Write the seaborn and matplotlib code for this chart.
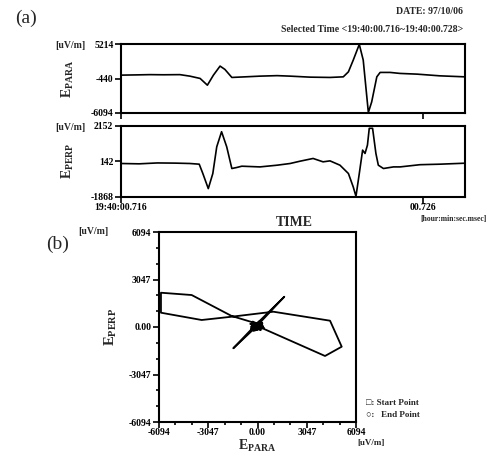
import numpy as np
import pandas as pd
import matplotlib
matplotlib.use('Agg')
import matplotlib.pyplot as plt
import seaborn as sns
from matplotlib.ticker import FixedLocator

# time series (ms after 19:40:00.716)
t_para = [0.0, 0.5, 0.96, 1.4, 1.95, 2.28, 2.62, 2.86, 3.06, 3.28, 3.44, 3.67, 4.11, 4.6,
          5.17, 5.6, 6.26, 6.92, 7.36, 7.53, 7.69, 7.89, 8.02, 8.19, 8.30, 8.47, 8.58,
          8.91, 9.24, 9.8, 10.56, 11.39]
e_para = [111, 150, 194, 170, 194, -53, -432, -1535, 111, 1593, 1050, -267, -168, -53,
          29, -53, -218, -267, -168, 655, 2580, 5150, 2580, -6000, -4283, -168, 556,
          556, 391, 276, -4, -168]

t_perp = [0.0, 0.6, 1.2, 1.8, 2.28, 2.59, 2.71, 2.89, 3.04, 3.17, 3.33, 3.50, 3.67, 3.83,
          4.0, 4.6, 5.17, 5.6, 5.93, 6.36, 6.69, 6.92, 7.25, 7.53, 7.69, 7.78, 7.89, 8.0,
          8.08, 8.16, 8.22, 8.33, 8.44, 8.52, 8.69, 9.02, 9.24, 9.9, 10.56, 11.39]
e_perp = [29, 10, 60, 50, 29, -10, -539, -1393, -539, 974, 1828, 974, -255, -198,
          -124, -164, -67, 29, 160, 314, 123, 178, -67, -539, -1301, -1831, -539, 786,
          598, 1071, 2021, 2021, 598, -67, -255, -164, -164, -39, -10, 46]

# hodogram (E_PARA vs E_PERP) as drawn in panel (b)
hodo_para = [-150, -400, 250, -100, 350, -300, 100, -450, 300, -200, -1498, -150, 1659,
             -100, 300, -400, 150, -250, 400, -350, 200, -150, 4178, 5210, 4488, 980,
             -1597, -3454, -5973, -5973, -4073, -1597, -300, 250, -155]
hodo_perp = [128, 0, 300, -200, 50, 350, -150, 200, 250, -100, -1365, 100, 1942,
             0, 200, -100, 400, -250, -50, 250, -200, 128, -1859, -1263, 404, 981,
             660, 449, 917, 2199, 2051, 705, 300, -50, 128]

para_ticks = [-6094, -440, 5214]
perp_ticks = [-1868, 142, 2152]
hodo_ticks = [-6094, -3047, 0, 3047, 6094]
hodo_labels = ['-6094', '-3047', '0.00', '3047', '6094']
time_ticks = [0, 10]
time_labels = ['19:40:00.716', '00.726']

sns.set_theme(style='ticks')
plt.rcParams['font.family'] = ['Liberation Serif', 'DejaVu Sans']
plt.rcParams['mathtext.fontset'] = 'custom'
plt.rcParams['mathtext.rm'] = 'Liberation Serif:bold'
plt.rcParams['mathtext.bf'] = 'Liberation Serif:bold'

W, H = 489, 454


def fx(px):
    return px / W


def fy(py):
    return 1 - py / H


fig = plt.figure(figsize=(W / 100, H / 100), dpi=100)
fig.patch.set_facecolor('white')

tick_kw = dict(labelsize=7, length=4, width=1.2, colors='black', pad=1.5)


def style_axes(ax):
    ax.set_facecolor('white')
    for s in ax.spines.values():
        s.set_linewidth(1.5)
        s.set_color('black')
    for lab in ax.get_xticklabels() + ax.get_yticklabels():
        lab.set_fontweight('bold')


# (a) E_PARA
ax1 = fig.add_axes([fx(121), fy(113), fx(465) - fx(121), fy(44) - fy(113)])
sns.lineplot(x=t_para, y=e_para, ax=ax1, color='black', linewidth=1.2, estimator=None, sort=False)
ax1.set_xlim(0, 11.39)
ax1.set_ylim(-6094, 5214)
ax1.set_yticks(para_ticks)
ax1.set_yticklabels(['-6094', '-440', '5214'])
ax1.set_xticks(time_ticks)
ax1.set_xticklabels([])
ax1.tick_params(**tick_kw)
ax1.set_xlabel('')
ax1.set_ylabel('')
style_axes(ax1)

# (a) E_PERP
ax2 = fig.add_axes([fx(121), fy(197), fx(465) - fx(121), fy(126) - fy(197)])
sns.lineplot(x=t_perp, y=e_perp, ax=ax2, color='black', linewidth=1.2, estimator=None, sort=False)
ax2.set_xlim(0, 11.39)
ax2.set_ylim(-1868, 2152)
ax2.set_yticks(perp_ticks)
ax2.set_yticklabels(['-1868', '142', '2152'])
ax2.set_xticks(time_ticks)
ax2.set_xticklabels(time_labels)
ax2.tick_params(**tick_kw)
ax2.tick_params(axis='x', pad=0.5)
ax2.set_xlabel('')
ax2.set_ylabel('')
style_axes(ax2)

# (b) hodogram
ax3 = fig.add_axes([fx(159), fy(422), fx(356) - fx(159), fy(232) - fy(422)])
hodo = pd.DataFrame({'para': hodo_para, 'perp': hodo_perp})
sns.lineplot(data=hodo, x='para', y='perp', ax=ax3, color='black', linewidth=1.3,
             estimator=None, sort=False)
ax3.plot(hodo_para[0], hodo_perp[0], marker='s', ms=3, mfc='black', mec='black', mew=0.8)
ax3.plot(hodo_para[-1], hodo_perp[-1], marker='o', ms=3, mfc='black', mec='black', mew=0.8)
ax3.set_xlim(-6094, 6094)
ax3.set_ylim(-6094, 6094)
ax3.set_xticks(hodo_ticks)
ax3.set_xticklabels(hodo_labels)
ax3.set_yticks(hodo_ticks)
ax3.set_yticklabels(hodo_labels)
minor = np.linspace(-6094, 6094, 13)
ax3.xaxis.set_minor_locator(FixedLocator(minor))
ax3.yaxis.set_minor_locator(FixedLocator(minor))
ax3.tick_params(which='major', **tick_kw)
ax3.tick_params(axis='x', which='major', pad=0.5)
ax3.tick_params(which='minor', length=2.5, width=1.2, colors='black')
ax3.set_xlabel('')
ax3.set_ylabel('')
style_axes(ax3)

# texts
fig.text(fx(15), fy(18), '(a)', fontsize=14, va='center', ha='left')
fig.text(fx(46), fy(244), '(b)', fontsize=14, va='center', ha='left')
fig.text(fx(463), fy(12), 'DATE: 97/10/06', fontsize=7, fontweight='bold', ha='right', va='center')
fig.text(fx(463), fy(29), 'Selected Time <19:40:00.716~19:40:00.728>', fontsize=7,
         fontweight='bold', ha='right', va='center')
fig.text(fx(55), fy(45), '[uV/m]', fontsize=7, fontweight='bold', ha='left', va='center')
fig.text(fx(55), fy(127), '[uV/m]', fontsize=7, fontweight='bold', ha='left', va='center')
fig.text(fx(78), fy(232), '[uV/m]', fontsize=7, fontweight='bold', ha='left', va='center')
fig.text(fx(68), fy(79), r'E$_{\mathrm{PARA}}$', fontsize=10, fontweight='bold', rotation=90,
         ha='center', va='center')
fig.text(fx(68), fy(161), r'E$_{\mathrm{PERP}}$', fontsize=10, fontweight='bold', rotation=90,
         ha='center', va='center')
fig.text(fx(294), fy(222), 'TIME', fontsize=10, fontweight='bold', ha='center', va='center')
fig.text(fx(487), fy(219), '[hour:min:sec.msec]', fontsize=5.5, fontweight='bold', ha='right', va='center')
fig.text(fx(257), fy(446), r'E$_{\mathrm{PARA}}$', fontsize=10, fontweight='bold', ha='center', va='center')
fig.text(fx(111), fy(327), r'E$_{\mathrm{PERP}}$', fontsize=10.5, fontweight='bold', rotation=90,
         ha='center', va='center')
fig.text(fx(371), fy(443), '[uV/m]', fontsize=6.5, fontweight='bold', ha='center', va='center')
fig.text(fx(366), fy(403), '\u25a1: Start Point', fontsize=6.5, fontweight='bold', ha='left', va='center')
fig.text(fx(366), fy(415), '\u25cb:   End Point', fontsize=6.5, fontweight='bold', ha='left', va='center')

fig.savefig('out.png', dpi=100, facecolor='white')
